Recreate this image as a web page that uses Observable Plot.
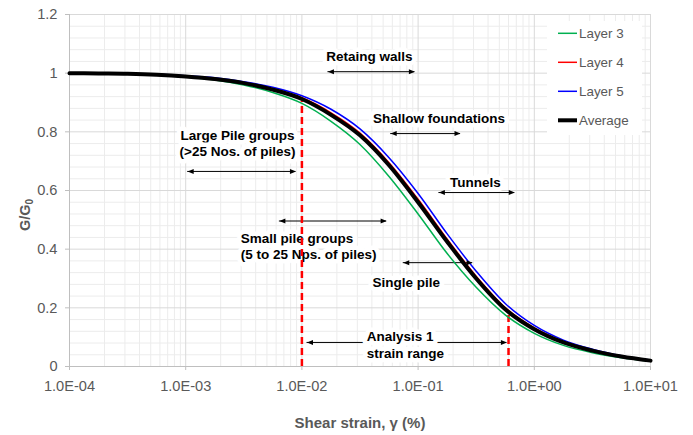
<!DOCTYPE html>
<html>
<head>
<meta charset="utf-8">
<script src="https://cdn.jsdelivr.net/npm/d3@7"></script>
<script src="https://cdn.jsdelivr.net/npm/@observablehq/plot@0.6"></script>
<style>
  html, body { margin: 0; padding: 0; background: #fff; }
  #chart { width: 693px; height: 435px; }
</style>
</head>
<body>
<div id="chart"></div>
<script>
// Shear strain (%) at quarter-decade steps
const strain = [1e-4, 1.78e-4, 3.16e-4, 5.62e-4, 1e-3, 1.78e-3, 3.16e-3, 5.62e-3,
                1e-2, 1.78e-2, 3.16e-2, 5.62e-2, 0.1, 0.178, 0.316, 0.562,
                1, 1.78, 3.16, 5.62, 10];

// G/G0 modulus reduction for each layer and their average
const layer3 = [1.000, 0.999, 0.997, 0.994, 0.987, 0.977, 0.960, 0.934,
                0.897, 0.836, 0.757, 0.648, 0.520, 0.385, 0.270, 0.176,
                0.113, 0.072, 0.047, 0.030, 0.018];
const layer4 = [1.000, 0.999, 0.998, 0.996, 0.990, 0.982, 0.968, 0.947,
                0.916, 0.865, 0.796, 0.695, 0.570, 0.434, 0.308, 0.201,
                0.132, 0.085, 0.056, 0.035, 0.021];
const layer5 = [1.000, 0.999, 0.998, 0.996, 0.991, 0.984, 0.971, 0.952,
                0.923, 0.877, 0.810, 0.712, 0.590, 0.452, 0.325, 0.215,
                0.140, 0.090, 0.059, 0.037, 0.022];
const average = [1.000, 0.999, 0.998, 0.995, 0.989, 0.980, 0.966, 0.944,
                 0.912, 0.858, 0.788, 0.686, 0.560, 0.425, 0.300, 0.195,
                 0.127, 0.082, 0.054, 0.034, 0.020];

const seriesNames = ["Layer 3", "Layer 4", "Layer 5", "Average"];
const seriesColors = ["#00b050", "#ff0000", "#0000ff", "#000000"];
const seriesWidths = [1.5, 1.5, 1.5, 4];

// Axis ticks and their labels
const xTicks = [1e-4, 1e-3, 1e-2, 1e-1, 1, 10];
const xTickLabels = ["1.0E-04", "1.0E-03", "1.0E-02", "1.0E-01", "1.0E+00", "1.0E+01"];
const yTicks = [0, 0.2, 0.4, 0.6, 0.8, 1, 1.2];
const yTickLabels = ["0", "0.2", "0.4", "0.6", "0.8", "1", "1.2"];

// Strain limits (dashed) and the curve level where each one stops
const limitStrain = [0.01, 0.6];
const limitTop = [0.905, 0.178];

// Application ranges: label text/position and double-headed arrow spans
const labelText = ["Retaing walls", "Shallow foundations", "Tunnels",
                   "Large Pile groups\n(>25 Nos. of piles)",
                   "Small pile groups\n(5 to 25 Nps. of piles)",
                   "Single pile", "Analysis 1\nstrain range"];
const labelStrain = [0.0381, 0.151, 0.311, 0.00279, 0.00298, 0.0791, 0.0361];
const labelRatio = [1.059, 0.848, 0.629, 0.762, 0.411, 0.288, 0.076];
const labelAnchor = ["middle", "middle", "middle", "middle", "start", "middle", "start"];

const arrowFrom = [0.01675, 0.0581, 0.151, 0.00104, 0.0064, 0.0745, 0.01107];
const arrowTo = [0.0938, 0.2317, 0.679, 0.00889, 0.0536, 0.2945, 0.581];
const arrowAt = [1.005, 0.794, 0.593, 0.665, 0.496, 0.354, 0.082];

// ---- tables built from the arrays above ----
const seriesValues = [layer3, layer4, layer5, average];
const curves = seriesNames.map((name, k) =>
  strain.map((s, i) => ({strain: s, ratio: seriesValues[k][i], series: name})));
const labels = labelText.map((t, i) => ({text: t, strain: labelStrain[i], ratio: labelRatio[i], anchor: labelAnchor[i]}));
const arrows = arrowFrom.map((f, i) => ({from: f, to: arrowTo[i], at: arrowAt[i]}));
const limits = limitStrain.map((s, i) => ({strain: s, top: limitTop[i]}));

// Gridline positions
const xMinor = xTicks.slice(0, -1).flatMap(d => [2, 3, 4, 5, 6, 7, 8, 9].map(m => d * m));
const yMinor = d3.range(0, 31).map(i => +(i * 0.04).toFixed(2)).filter(v => !yTicks.includes(v));

const xLabelFor = new Map(xTicks.map((t, i) => [t, xTickLabels[i]]));
const yLabelFor = new Map(yTicks.map((t, i) => [t, yTickLabels[i]]));

// Filled arrowheads, tip at the anchor point
const headRight = {draw(ctx) { ctx.moveTo(0, 0); ctx.lineTo(-6, -2.5); ctx.lineTo(-6, 2.5); ctx.closePath(); }};
const headLeft = {draw(ctx) { ctx.moveTo(0, 0); ctx.lineTo(6, -2.5); ctx.lineTo(6, 2.5); ctx.closePath(); }};

const textOpts = (subset, anchor) => Plot.text(subset, {
  x: "strain", y: "ratio", text: "text", textAnchor: anchor,
  fill: "#000", fontWeight: "bold", fontSize: 13.5, lineHeight: 1.22,
  stroke: "white", strokeWidth: 9, strokeLinejoin: "round", paintOrder: "stroke"
});

const chart = Plot.plot({
  width: 693,
  height: 435,
  marginLeft: 69,
  marginRight: 43,
  marginTop: 14,
  marginBottom: 69,
  style: {fontFamily: "'Liberation Sans', Arial, sans-serif", fontSize: "14.6px", background: "#fff", overflow: "visible"},
  x: {type: "log", domain: [1e-4, 10]},
  y: {domain: [0, 1.2]},
  marks: [
    Plot.ruleX(xMinor, {stroke: "#ececec"}),
    Plot.ruleY(yMinor, {stroke: "#ececec"}),
    Plot.ruleX(xTicks, {stroke: "#d9d9d9"}),
    Plot.ruleY(yTicks, {stroke: "#d9d9d9"}),
    Plot.ruleX([1e-4], {stroke: "#bfbfbf"}),
    Plot.ruleY([0], {stroke: "#bfbfbf"}),
    Plot.axisX({ticks: xTicks, tickFormat: d => xLabelFor.get(d), tickSize: 4, tickPadding: 10,
                stroke: "#bfbfbf", fill: "#595959", fontSize: 14.6, label: null}),
    Plot.axisY({ticks: yTicks, tickFormat: d => yLabelFor.get(d), tickSize: 4, tickPadding: 8,
                stroke: "#bfbfbf", fill: "#595959", fontSize: 14.6, label: null}),
    Plot.ruleY(arrows, {y: "at", x1: "from", x2: "to", stroke: "#000", strokeWidth: 1}),
    textOpts(labels.filter(d => d.anchor === "middle"), "middle"),
    textOpts(labels.filter(d => d.anchor === "start"), "start"),
    Plot.ruleX(limits, {x: "strain", y1: 0, y2: "top", stroke: "#ff0000", strokeWidth: 2.5, strokeDasharray: "7,4"}),
    ...[0, 2, 1, 3].map(k => Plot.line(curves[k], {
      x: "strain", y: "ratio", stroke: seriesColors[k], strokeWidth: seriesWidths[k], curve: "monotone-x"
    })),
    Plot.dot(arrows, {x: "to", y: "at", symbol: headRight, fill: "#000", r: 3}),
    Plot.dot(arrows, {x: "from", y: "at", symbol: headLeft, fill: "#000", r: 3}),
    Plot.text(["Shear strain, γ (%)"], {text: d => d, frameAnchor: "bottom", lineAnchor: "middle", dy: 57,
      fill: "#595959", fontWeight: "bold", fontSize: 15})
  ]
});

const svg = d3.select(chart);

// Y-axis title with subscript
const yTitle = svg.append("text")
  .attr("transform", "translate(25,215) rotate(-90)")
  .attr("text-anchor", "middle")
  .attr("dy", "0.35em")
  .attr("fill", "#595959")
  .attr("font-weight", "bold")
  .attr("font-size", 14.5)
  .text("G/G");
yTitle.append("tspan").attr("font-size", 10).attr("dy", "0.3em").text("0");

// Legend
const legend = svg.append("g").attr("text-anchor", "start");
legend.append("rect").attr("x", 547).attr("y", 21).attr("width", 95).attr("height", 114).attr("fill", "#fff");
seriesNames.forEach((name, i) => {
  const cy = 33.3 + i * 29;
  legend.append("line").attr("x1", 558).attr("x2", 577).attr("y1", cy).attr("y2", cy)
    .attr("stroke", seriesColors[i]).attr("stroke-width", seriesWidths[i]);
  legend.append("text").attr("x", 579).attr("y", cy).attr("dy", "0.35em")
    .attr("text-anchor", "start")
    .attr("fill", "#595959").attr("font-size", 13.4).text(name);
});

document.getElementById("chart").append(chart);
</script>
</body>
</html>
